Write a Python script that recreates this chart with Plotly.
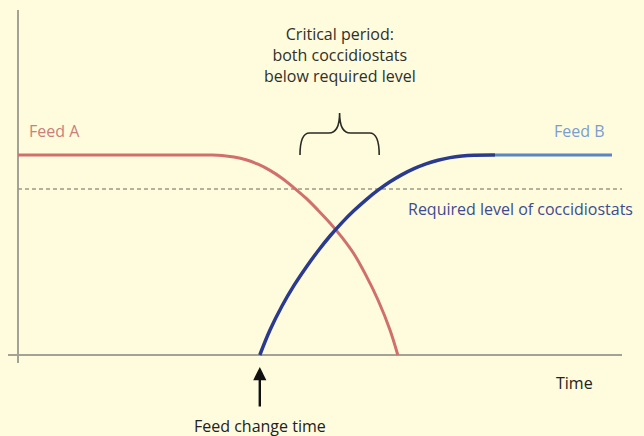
import plotly.graph_objects as go

# ---- data (time units, coccidiostat level %) ----
feed_a_time = [0, 16, 30, 32, 34, 36, 38, 40, 42, 44, 46, 48, 50, 52, 54, 56, 58, 60, 62, 63.3]
feed_a_level = [100, 100, 100, 100, 99.8, 99.0, 97.6, 95.4, 92.3, 88.4, 83.6, 78.4, 72.4,
                66.0, 58.8, 50.5, 39.8, 27.5, 12.5, 0]

feed_b_rise_time = [40.3, 42, 44, 46, 48, 50, 52, 54, 56, 58, 60, 62, 64, 66, 68, 70, 72,
                    74, 76, 79.5]
feed_b_rise_level = [0, 12.5, 24.5, 34.8, 43.8, 52.0, 59.5, 66.2, 72.2, 77.6, 82.4, 86.6,
                     90.2, 93.2, 95.6, 97.4, 98.7, 99.5, 99.9, 100]

feed_b_flat_time = [79.5, 99]
feed_b_flat_level = [100, 100]

required_level = 83
critical_start = 47.0
critical_end = 60.2

x_range = [-1.667, 100.667]
y_range = [-4, 172.5]

FONT = "Open Sans"
BG = "#fffbdd"

fig = go.Figure()

# required level dashed line
fig.add_trace(go.Scatter(
    x=[0, x_range[1]], y=[required_level, required_level], mode="lines",
    line=dict(color="#9c9a8a", width=1.3, dash="4px,3px"), hoverinfo="skip"))

fig.add_trace(go.Scatter(
    x=feed_a_time, y=feed_a_level, mode="lines",
    line=dict(color="#d0706c", width=3, shape="spline", smoothing=1),
    hoverinfo="skip"))

fig.add_trace(go.Scatter(
    x=feed_b_flat_time, y=feed_b_flat_level, mode="lines",
    line=dict(color="#5b84c4", width=3), hoverinfo="skip"))

fig.add_trace(go.Scatter(
    x=feed_b_rise_time, y=feed_b_rise_level, mode="lines",
    line=dict(color="#2a3a8e", width=3.5, shape="spline", smoothing=1),
    hoverinfo="skip"))

# curly brace over the critical period
mid = (critical_start + critical_end) / 2
b0, b1, b2 = 100, 111, 121
brace = (f"M {critical_start},{b0} Q {critical_start},{b1} {critical_start+1.6},{b1} "
         f"L {mid-1.8},{b1} Q {mid},{b1} {mid},{b2} "
         f"Q {mid},{b1} {mid+1.8},{b1} "
         f"L {critical_end-1.6},{b1} Q {critical_end},{b1} {critical_end},{b0}")
fig.add_shape(type="path", path=brace, xref="x", yref="y",
              line=dict(color="#2b2b25", width=1.6))

ann = []
ann.append(dict(x=1.5, y=112, xref="x", yref="y", text="Feed A", showarrow=False,
                xanchor="left", yanchor="middle",
                font=dict(family=FONT, size=16, color="#c9807a")))
ann.append(dict(x=98.2, y=112, xref="x", yref="y", text="Feed B", showarrow=False,
                xanchor="right", yanchor="middle",
                font=dict(family=FONT, size=16, color="#7b9dcf")))
ann.append(dict(x=64.7, y=73, xref="x", yref="y", text="Required level of coccidiostats",
                showarrow=False, xanchor="left", yanchor="middle",
                font=dict(family=FONT, size=16, color="#3d4b92")))
ann.append(dict(x=53.7, y=150, xref="x", yref="y",
                text="Critical period:<br>both coccidiostats<br>below required level",
                showarrow=False, xanchor="center", yanchor="middle", align="center",
                font=dict(family=FONT, size=16, color="#303028")))
ann.append(dict(x=92.8, y=-0.057, xref="x", yref="paper", text="Time", showarrow=False,
                xanchor="center", yanchor="middle",
                font=dict(family=FONT, size=16, color="#222222")))
ann.append(dict(x=feed_b_rise_time[0], y=-0.0113, xref="x", yref="paper", text="",
                showarrow=True, ax=0, ay=41, arrowhead=2, arrowsize=1.1, arrowwidth=2.4,
                arrowcolor="#111111"))
ann.append(dict(x=feed_b_rise_time[0], y=-0.178, xref="x", yref="paper",
                text="Feed change time", showarrow=False, xanchor="center", yanchor="middle",
                font=dict(family=FONT, size=16, color="#222222")))

fig.update_layout(
    width=644, height=436,
    margin=dict(l=8, r=22, t=10, b=73),
    paper_bgcolor=BG, plot_bgcolor=BG,
    showlegend=False,
    annotations=ann,
    xaxis=dict(range=x_range, showgrid=False, showticklabels=False, ticks="",
               zeroline=True, zerolinecolor="#a3a294", zerolinewidth=2, fixedrange=True),
    yaxis=dict(range=y_range, showgrid=False, showticklabels=False, ticks="",
               zeroline=True, zerolinecolor="#a3a294", zerolinewidth=2, fixedrange=True),
)

fig.write_html(
    "out.html",
    config={"displayModeBar": False},
    post_script="document.body.style.margin='0';document.body.style.background='" + BG + "';",
)
